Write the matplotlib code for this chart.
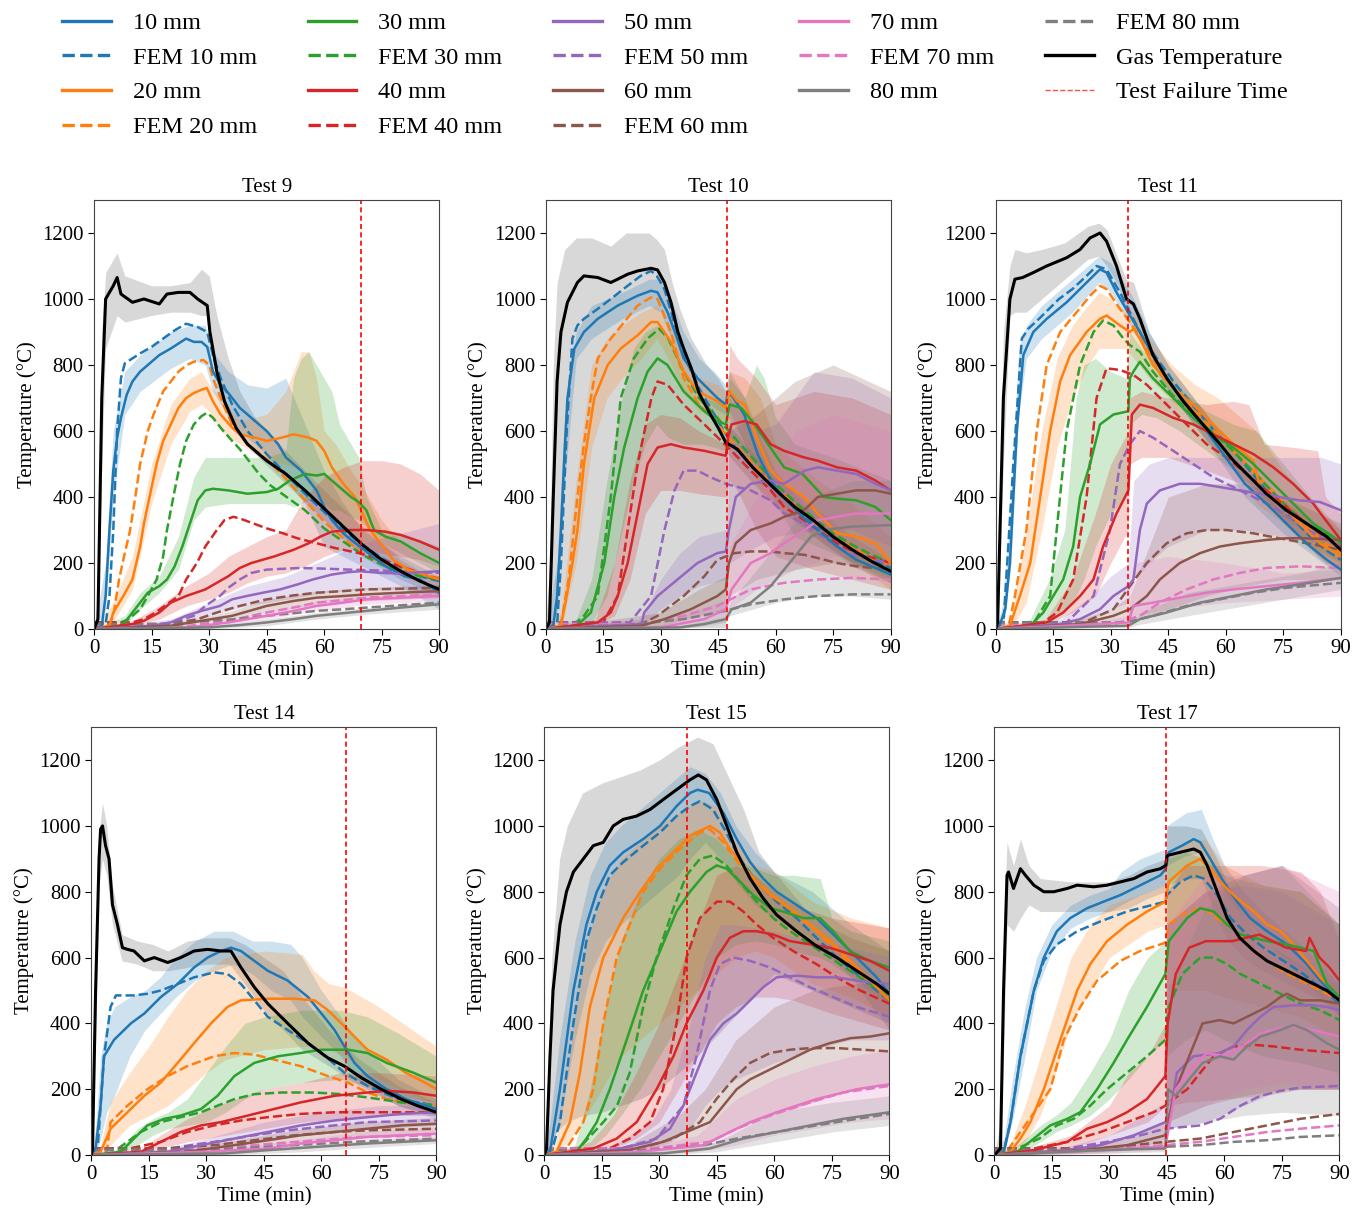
import matplotlib.pyplot as plt
from matplotlib.lines import Line2D
import numpy as np

plt.rcParams['font.family'] = ['Liberation Serif', 'DejaVu Serif']
plt.rcParams['font.size'] = 15

# colours of the thermocouple depths
COLORS = {10: '#1f77b4', 20: '#ff7f0e', 30: '#2ca02c', 40: '#d62728',
          50: '#9467bd', 60: '#8c564b', 70: '#e377c2', 80: '#7f7f7f'}
DEPTHS = [10, 20, 30, 40, 50, 60, 70, 80]
TESTS = [9, 10, 11, 14, 15, 17]
FAIL = {9: 69.6, 10: 47.2, 11: 34.6, 14: 66.4, 15: 37.3, 17: 44.8}

# data: (time, temp) for lines, (time, low, high) for bands
# ---------------- Test 9 ----------------
t9_gas = [(0,0),(1,30),(2,700),(3,1000),(5,1040),(6,1065),(7,1015),(10,990),(13,1000),(17,985),(19,1015),(22,1020),(25,1020),(27,1000),(29.5,980),(30.2,900),(32,780),(34,690),(37,610),(40,560),(45,510),(50,470),(55,420),(60,365),(65,310),(70,255),(75,210),(80,175),(85,145),(90,120)]
t9_gas_b = [(0,0,0),(1,0,100),(2,500,900),(3,850,1080),(6,950,1140),(8,930,1070),(15,950,1040),(20,960,1040),(25,960,1050),(28,950,1090),(30,950,1070),(32,740,950),(35,640,820),(38,580,720),(42,530,640),(50,440,540),(60,330,420),(70,220,310),(80,150,210),(90,100,140)]
t9_m10 = [(0,0),(2,10),(3,100),(4,300),(5,480),(6,580),(7,640),(8.5,710),(10,750),(12,780),(15,810),(17,830),(20,850),(22,865),(24,880),(26,870),(28,870),(29.5,855),(31,780),(33,740),(35,715),(38,670),(40,650),(45,600),(48,560),(50,520),(54,480),(56,450),(58,420),(60,370),(62,330),(65,290),(67,270),(71,235),(76,190),(81,160),(85,150),(90,110)]
t9_m10_b = [(0,0,0),(3,60,200),(5,400,600),(8,650,780),(12,720,830),(20,790,900),(25,820,920),(29,800,920),(31,720,840),(35,640,780),(40,580,740),(45,530,730),(50,450,760),(55,380,620),(60,250,480),(65,220,380),(70,190,300),(80,130,220),(90,60,160)]
t9_f10 = [(0,15),(3,15),(4,100),(5,300),(6,600),(7,760),(8,805),(10,820),(12,835),(15,855),(18,880),(21,905),(24,925),(27,915),(29.5,900),(31,830),(33,760),(36,680),(40,600),(45,530),(50,470),(55,410),(60,355),(65,300),(70,255),(75,215),(80,185),(85,160),(90,145)]
t9_m20 = [(0,0),(4,10),(5,50),(7.6,100),(10,150),(12,250),(13,320),(15,430),(16.3,500),(18,570),(20,620),(22,670),(24,700),(26,715),(28,725),(29.4,730),(31,690),(33,650),(36,610),(38,590),(42,580),(45,570),(49,580),(52,590),(56,580),(58,570),(60,540),(62,490),(65,440),(68,400),(70,350),(72,300),(74,270),(78,210),(82,180),(86,165),(90,150)]
t9_m20_b = [(0,0,0),(5,20,80),(10,120,220),(15,380,500),(20,560,680),(25,660,760),(28,680,780),(30,660,740),(33,600,700),(38,560,630),(45,510,650),(50,500,720),(54,480,840),(56,440,840),(58,420,760),(60,380,600),(63,330,560),(67,280,480),(70,250,430),(75,200,330),(80,160,260),(90,120,190)]
t9_f20 = [(0,15),(4,15),(5,40),(6.5,150),(8,230),(9.4,300),(11,420),(12,500),(14,600),(15.5,650),(18,720),(20,750),(22,780),(24.2,800),(26,810),(28.5,815),(30,800),(31,760),(33,700),(36,620),(40,560),(45,515),(50,455),(55,390),(60,325),(65,275),(70,230),(75,200),(80,180),(85,165),(90,155)]
t9_m30 = [(0,0),(7,10),(8,20),(10,50),(12,80),(14,110),(17,130),(19,150),(21,190),(23,250),(25,320),(27,390),(29,420),(31,425),(35,420),(40,410),(45,415),(48,425),(51,450),(55,470),(58,465),(60,470),(62,450),(64,430),(67,400),(69,385),(71,360),(73,300),(76,280),(80,265),(85,230),(90,200)]
t9_m30_b = [(0,0,0),(8,10,40),(12,60,110),(17,110,160),(22,180,280),(26,330,460),(29,370,520),(35,380,520),(45,380,520),(50,380,540),(52,370,760),(54,380,820),(56,390,840),(58,380,800),(60,380,760),(62,360,720),(64,360,620),(67,340,560),(69,330,520),(71,310,400),(75,260,300),(80,230,290),(90,170,250)]
t9_f30 = [(0,20),(7,20),(9,30),(12,60),(14,100),(16.3,150),(18,220),(19,300),(21,420),(22.4,500),(24,570),(26,620),(28,645),(29.4,655),(31,640),(33,610),(36,570),(38,545),(40,515),(43,470),(46,435),(49,410),(52,385),(55,360),(60,305),(65,265),(70,225),(75,195),(80,175),(85,160),(90,150)]
t9_m40 = [(0,0),(10,15),(13,25),(17,50),(20,80),(24,100),(29,120),(32,140),(35,160),(38,185),(41,200),(47,220),(52,240),(56,260),(59,280),(62,295),(66,300),(71,300),(76,295),(80,285),(85,265),(90,240)]
t9_m40_b = [(0,0,0),(10,10,25),(17,30,70),(24,70,130),(30,90,170),(35,110,220),(40,140,250),(45,160,280),(50,170,300),(55,190,400),(60,220,460),(65,240,490),(70,240,510),(75,230,510),(80,220,500),(85,210,470),(90,190,420)]
t9_f40 = [(0,20),(10,20),(13,30),(16,50),(19,75),(22,100),(24,150),(26.8,200),(29,250),(32,300),(34,330),(36.3,340),(38,335),(41.5,320),(45,305),(49.3,290),(53,275),(58,260),(63,245),(69,230),(75,210),(80,190),(85,170),(90,150)]
t9_m50 = [(0,0),(15,10),(20,20),(24,40),(28,55),(32.8,70),(36,90),(39.8,100),(44,110),(48.5,120),(53,135),(57,150),(62,165),(66,172),(69.3,175),(75,170),(80,168),(85,172),(90,175)]
t9_m50_b = [(0,0,0),(20,10,30),(30,40,80),(40,70,130),(50,90,160),(60,110,210),(70,120,260),(80,120,290),(90,110,320)]
t9_f50 = [(0,15),(18,15),(22,25),(26,40),(29,70),(32.8,100),(35,125),(38,150),(41,170),(45,180),(53.7,185),(60,183),(66.7,180),(75,177),(80,175),(85,172),(90,170)]
t9_m60 = [(0,0),(20,10),(28,25),(36,40),(45,70),(52,85),(58,95),(65,100),(71,105),(80,110),(90,115)]
t9_m60_b = [(0,0,0),(20,5,15),(36,30,55),(45,50,90),(58,75,115),(70,85,125),(90,95,135)]
t9_f60 = [(0,15),(20,15),(27,30),(32,50),(38,70),(45,90),(52,102),(58,110),(65,115),(71,120),(80,122),(90,125)]
t9_m70 = [(0,0),(25,5),(35,20),(45,40),(52,55),(58,70),(65,80),(71,90),(80,95),(90,100)]
t9_m70_b = [(0,0,0),(25,0,10),(45,30,50),(58,55,85),(71,75,100),(90,85,115)]
t9_f70 = [(0,10),(25,10),(35,25),(45,50),(52,65),(58,80),(65,88),(71,95),(80,100),(90,105)]
t9_m80 = [(0,0),(30,5),(38,12),(45,20),(52,30),(58,40),(65,48),(71,55),(80,65),(90,75)]
t9_m80_b = [(0,0,0),(30,0,10),(45,10,30),(58,30,50),(71,45,65),(90,60,85)]
t9_f80 = [(0,15),(20,15),(30,25),(37,30),(45,40),(52,48),(58,55),(65,60),(71,65),(80,72),(90,80)]

# ---------------- Test 10 ----------------
t10_gas = [(0,0),(1,20),(2,400),(3,750),(4,900),(5.7,990),(8.3,1050),(10,1070),(13.6,1065),(17,1050),(18.8,1060),(21.4,1075),(24,1085),(27.5,1093),(29.2,1088),(31,1050),(32.7,990),(34.5,900),(36,850),(38,790),(40,715),(43,650),(45,610),(47,565),(48.5,555),(50,545),(54,490),(58,445),(61,411),(65,370),(70,328),(75,280),(80,240),(85,205),(90,175)]
t10_gas_b = [(0,0,0),(1,0,200),(2,5,800),(3,5,1050),(5,5,1150),(8,5,1185),(12,5,1185),(17,5,1160),(21,5,1200),(27,5,1200),(29,5,1180),(31,5,1150),(33,5,1050),(35,5,970),(38,5,880),(42,5,800),(45,5,760),(47,5,720),(47.5,530,620),(50,495,590),(55,430,520),(60,370,460),(70,280,370),(80,200,280),(90,140,210)]
t10_m10 = [(0,0),(2,10),(3,100),(4,300),(5,550),(5.7,700),(7.5,850),(10,900),(13.6,940),(18.8,980),(24,1010),(27.5,1025),(29.2,1020),(31.8,960),(34,890),(36,820),(39.6,760),(44.8,700),(47,680),(47.6,720),(49,700),(51.8,650),(55.3,530),(58.7,450),(62,400),(67,340),(71,300),(76,250),(81,210),(85,190),(90,165)]
t10_m10_b = [(0,0,0),(3,50,200),(5,450,650),(8,820,900),(12,880,980),(20,940,1020),(27,980,1060),(30,960,1060),(33,870,990),(36,780,900),(40,720,820),(44,670,780),(47,650,740),(48,660,780),(52,560,700),(56,460,580),(60,400,480),(70,280,340),(80,190,240),(90,140,190)]
t10_f10 = [(0,15),(3,15),(4,200),(5.5,600),(7,880),(8.3,920),(10,940),(13.6,970),(17,1000),(21.4,1040),(24.8,1070),(27.5,1085),(29,1070),(31,1030),(33,950),(36,830),(40,730),(44,650),(47,590),(50,540),(55,480),(60,420),(65,370),(70,320),(75,275),(80,240),(85,210),(90,185)]
t10_m20 = [(0,0),(4,10),(5.5,100),(7,200),(8.3,300),(10,500),(12.7,700),(16.2,800),(19.6,850),(24,890),(27.5,930),(29.2,930),(32.7,870),(36,780),(39.6,720),(44.8,690),(47,670),(48,720),(50,690),(52,680),(55,580),(58.7,480),(62.2,440),(67.4,400),(71,350),(76,290),(81,280),(86,260),(88,230),(90,200)]
t10_m20_b = [(0,0,0),(4,0,50),(8,200,450),(12,550,800),(16,700,880),(20,760,920),(25,820,960),(29,880,980),(32,820,920),(36,720,820),(40,660,760),(45,640,740),(47,620,720),(48,640,780),(52,560,760),(56,420,700),(60,380,560),(70,280,460),(80,200,380),(90,120,280)]
t10_f20 = [(0,15),(4,15),(6,150),(8.3,400),(10,560),(11.8,700),(13.6,820),(17,880),(20.5,930),(24,980),(27.5,1005),(29.2,1000),(32.7,900),(36,760),(40,680),(45,620),(47,590),(50,550),(55,490),(60,430),(65,375),(70,325),(75,280),(80,245),(85,215),(90,195)]
t10_m30 = [(0,0),(8,10),(10,30),(11.8,50),(15.3,200),(17.9,400),(20.5,550),(24,700),(26.6,780),(29.2,820),(31.8,800),(36,720),(41.4,660),(44.8,630),(47,620),(48,680),(51,670),(54.5,620),(58,560),(62.2,490),(67,470),(72.6,400),(76,395),(81,390),(86,370),(90,330)]
t10_m30_b = [(0,0,0),(8,0,30),(12,20,150),(16,100,450),(20,300,700),(23,450,850),(26,560,900),(29,620,920),(32,580,880),(36,560,780),(41,560,700),(47,540,680),(48,560,760),(52,520,700),(55,500,800),(57,460,760),(60,380,640),(65,280,560),(75,230,520),(90,150,450)]
t10_f30 = [(0,20),(8,20),(10,40),(13.6,100),(17,400),(19.6,700),(23,820),(26.6,880),(29.6,910),(32,880),(36,780),(40,700),(44.8,640),(47,610),(50,570),(55,505),(60,440),(65,385),(70,335),(75,290),(80,255),(85,225),(90,200)]
t10_m40 = [(0,0),(13.6,20),(17,50),(18.8,100),(21.4,200),(24,350),(26.6,500),(29.2,550),(32.7,560),(36,550),(41.4,540),(47,525),(47.6,580),(48.5,620),(51.8,630),(55,620),(58.7,560),(62.2,540),(67.4,520),(71,510),(76,490),(81,480),(86,450),(90,420)]
t10_m40_b = [(0,0,0),(13,10,30),(18,40,200),(22,150,450),(26,350,620),(30,420,650),(35,420,640),(40,410,600),(47,400,560),(48,450,860),(50,420,820),(55,300,760),(60,220,680),(70,180,720),(80,150,700),(90,120,650)]
t10_f40 = [(0,20),(15,20),(18.8,100),(21.4,300),(24,500),(27.6,700),(29.2,750),(31.8,740),(36,680),(41.4,620),(46.7,560),(49.3,530),(53.5,480),(58.7,420),(62.2,370),(67.4,330),(71,300),(76,260),(81,230),(90,200)]
t10_m50 = [(0,0),(25,15),(25.7,50),(29.2,100),(34.4,150),(39.6,200),(44.8,230),(47,235),(47.8,300),(49.6,400),(53.5,440),(58.7,450),(62.2,440),(67.6,480),(71,490),(76,480),(81,470),(86,440),(90,420)]
t10_m50_b = [(0,0,0),(25,5,30),(30,60,150),(35,100,230),(40,130,280),(47,150,300),(48,200,700),(55,250,600),(60,280,620),(70,300,780),(80,300,760),(90,250,700)]
t10_f50 = [(0,20),(22,20),(27.5,100),(31,300),(33.6,420),(36,480),(39.6,480),(43,460),(47,440),(53.5,420),(58.7,390),(62.2,350),(67.4,320),(71,290),(76,250),(81,220),(90,200)]
t10_m60 = [(0,0),(25,10),(31,30),(37.9,60),(44.8,100),(47,120),(47.8,200),(49.6,260),(53.5,300),(58.7,320),(62.2,340),(67.4,360),(71,400),(76,410),(81,420),(86,420),(90,410)]
t10_m60_b = [(0,0,0),(30,10,50),(40,40,120),(47,60,160),(48,100,600),(55,150,650),(65,180,750),(75,200,800),(90,180,720)]
t10_f60 = [(0,15),(25,15),(29.2,40),(36,100),(41.4,160),(44.8,210),(49.3,230),(53.5,235),(58.7,235),(62.2,230),(67.4,225),(71,215),(76,200),(81,190),(90,180)]
t10_m70 = [(0,0),(30,5),(41.4,30),(47,60),(48.5,120),(53.5,200),(58.7,230),(62.2,260),(67.6,300),(71,330),(76,340),(81,350),(90,350)]
t10_m70_b = [(0,0,0),(30,0,15),(47,40,90),(48,60,250),(55,120,400),(65,180,600),(75,220,650),(90,230,600)]
t10_f70 = [(0,15),(25,15),(36,40),(44.8,70),(50,100),(53.5,120),(62.2,140),(71,150),(80,155),(90,150)]
t10_m80 = [(0,0),(35,5),(41.4,15),(47,30),(48.5,60),(53.5,80),(58.7,130),(62.2,180),(65.7,230),(69.2,280),(72.6,300),(79.5,310),(90,315)]
t10_m80_b = [(0,0,0),(35,0,10),(47,20,40),(48,40,80),(60,80,250),(70,100,400),(80,100,450),(90,90,450)]
t10_f80 = [(0,10),(20,10),(36,30),(47,55),(53.5,75),(62.2,90),(71,100),(80,105),(90,105)]

# ---------------- Test 11 ----------------
t11_gas = [(0,0),(0.5,20),(2,700),(3.7,1000),(5,1060),(7,1065),(9.8,1080),(13.3,1100),(18.5,1125),(22,1150),(24.6,1185),(27.2,1200),(28.9,1175),(31.5,1100),(34.1,1000),(35.9,985),(37.6,940),(41,830),(44.6,760),(48.9,690),(53.3,630),(58.5,560),(62,510),(67.2,450),(70.6,410),(75.8,360),(81,320),(86.3,280),(90,240)]
t11_gas_b = [(0,0,0),(0.5,0,150),(2,500,900),(3.7,950,1100),(5,960,1150),(8,960,1140),(12,1000,1150),(18,1060,1170),(24,1120,1220),(27,1130,1230),(29,1100,1210),(32,1040,1120),(34,960,1060),(36,940,1050),(40,820,900),(45,720,800),(55,570,650),(65,450,510),(75,340,390),(90,220,260)]
t11_m10 = [(0,0),(1,10),(2.5,60),(3.7,200),(5.5,600),(7.2,830),(9.8,900),(13.3,940),(18.5,990),(23.7,1050),(27.2,1090),(28.9,1080),(31.5,1020),(35,950),(37.6,900),(41,830),(44.6,760),(49.8,680),(55,600),(60,520),(65,440),(70.6,380),(75.8,320),(81,260),(86.3,210),(90,180)]
t11_m10_b = [(0,0,0),(2,0,80),(4,200,400),(6,650,850),(8,820,920),(12,880,980),(20,960,1060),(27,1050,1130),(30,1020,1110),(33,960,1060),(36,900,1000),(40,820,900),(45,720,800),(55,570,650),(65,400,480),(75,290,350),(90,160,210)]
t11_f10 = [(0,15),(2,15),(3,200),(4.6,500),(6.8,880),(8.5,910),(11.3,940),(16.5,1000),(20,1030),(23.7,1070),(26.3,1100),(28.9,1090),(32.4,1020),(35,960),(38,890),(42,820),(47,740),(52,670),(57,600),(62,540),(67,470),(72,400),(77,340),(82,280),(86,240),(90,210)]
t11_m20 = [(0,0),(3.7,10),(6.3,100),(9,200),(11.6,400),(14.2,600),(16.8,750),(19.4,830),(23.7,900),(27.2,940),(28.9,950),(32.4,920),(35,900),(35.9,910),(37.6,880),(41,800),(46.3,730),(51.5,680),(56.7,620),(62,560),(67.2,510),(68.9,430),(74,380),(79.3,320),(84.5,260),(90,220)]
t11_m20_b = [(0,0,0),(4,0,30),(8,80,300),(12,300,600),(16,550,820),(20,700,920),(24,800,980),(27,850,1020),(30,850,1000),(34,850,960),(36,820,960),(40,760,880),(46,690,800),(52,640,740),(58,560,700),(62,500,660),(68,380,600),(75,320,480),(82,240,380),(90,180,300)]
t11_f20 = [(0,15),(3.5,15),(5,100),(8,300),(10.7,600),(13.3,800),(16.8,900),(21.1,960),(24.6,1010),(27.2,1040),(28.9,1030),(32.4,970),(35,930),(38,880),(42,800),(47,720),(52,660),(57,600),(62,540),(67,480),(72,420),(77,360),(82,300),(86,260),(90,230)]
t11_m30 = [(0,0),(9,10),(12.4,50),(15,100),(17.6,150),(20.2,250),(22,400),(24.6,500),(27.2,620),(30.7,650),(34.6,660),(35,760),(35.9,780),(37.6,810),(41,760),(46.3,700),(51.5,640),(56.7,590),(62,550),(67.2,500),(72.4,440),(77.6,380),(82.8,320),(88,280),(90,260)]
t11_m30_b = [(0,0,0),(9,0,30),(14,30,150),(18,60,300),(21,100,700),(23,150,800),(26,250,820),(30,350,780),(34,400,760),(35,620,900),(38,650,850),(42,640,800),(48,600,730),(55,540,660),(62,480,620),(68,420,600),(75,320,500),(82,250,400),(90,200,300)]
t11_f30 = [(0,20),(10,20),(14.2,100),(15.9,300),(18.5,600),(22,800),(25.5,900),(28,935),(30.7,920),(33.3,880),(35,860),(37.6,840),(41,780),(46,710),(51,650),(56,600),(61,550),(66,490),(71,430),(76,370),(81,320),(86,290),(90,265)]
t11_m40 = [(0,0),(13.3,20),(17.6,50),(22,100),(25.5,150),(28,250),(31.5,350),(34.6,420),(35.5,650),(37.6,680),(41,670),(46.3,640),(51.5,620),(56.7,590),(62,560),(67.2,530),(72.4,490),(77.6,440),(82.8,380),(88,300),(90,270)]
t11_m40_b = [(0,0,0),(13,10,30),(20,50,150),(26,100,350),(30,200,500),(34.6,300,600),(35,500,700),(38,520,720),(45,520,700),(55,480,680),(62,450,690),(66,430,680),(70,380,560),(78,300,550),(84,220,540),(86,200,400),(90,180,350)]
t11_f40 = [(0,20),(12.4,20),(16,50),(20.2,150),(23.7,400),(26.3,700),(28.9,790),(32.4,785),(35.9,770),(39.4,740),(44.6,680),(49.8,620),(55,560),(60.2,520),(65.4,470),(70.6,420),(75.8,370),(81,320),(86.3,275),(90,250)]
t11_m50 = [(0,0),(16.8,15),(22,30),(27.2,60),(30.7,100),(34.6,130),(35.9,150),(37.6,300),(39.4,380),(42.8,420),(48,440),(53.3,440),(58.5,430),(63.7,420),(69,410),(74,400),(79,390),(84.5,385),(90,360)]
t11_m50_b = [(0,0,0),(17,5,30),(25,30,100),(30,60,160),(34.6,80,200),(36,150,450),(40,200,500),(45,250,520),(55,300,520),(65,300,520),(75,280,520),(85,260,520),(90,250,500)]
t11_f50 = [(0,20),(18.5,20),(25.5,100),(29.8,300),(32.4,500),(35,560),(37.6,600),(41,580),(46.3,540),(51.5,500),(56.7,460),(62,430),(67.2,400),(72.4,370),(77.6,330),(82.8,290),(90,250)]
t11_m60 = [(0,0),(22,15),(30.7,40),(35,60),(39.4,100),(42.8,150),(48,200),(53.3,230),(58.5,250),(63.7,260),(70.6,270),(75.8,275),(81,275),(90,270)]
t11_m60_b = [(0,0,0),(22,5,30),(30,20,60),(35,30,100),(40,40,250),(45,60,400),(55,100,440),(65,130,440),(75,150,400),(90,150,320)]
t11_f60 = [(0,20),(23,20),(30.7,60),(35,130),(39.4,200),(44.6,260),(49.8,290),(55,300),(60.2,300),(67.2,290),(74,275),(81,260),(90,240)]
t11_m70 = [(0,0),(27,15),(34.6,20),(35.9,70),(41,80),(48,95),(55,110),(62,120),(70.6,130),(79.3,140),(90,155)]
t11_m70_b = [(0,0,0),(27,5,25),(34.6,10,40),(36,40,200),(45,60,220),(60,80,200),(75,90,170),(90,100,180)]
t11_f70 = [(0,15),(31,15),(37.6,40),(42.8,80),(49.8,120),(56.7,150),(63.7,170),(70.6,185),(79.3,190),(90,185)]
t11_m80 = [(0,0),(34.6,10),(37.6,30),(44.6,50),(53.3,80),(62,100),(70.6,120),(79.3,135),(90,155)]
t11_m80_b = [(0,0,0),(34.6,5,20),(38,15,50),(50,40,110),(65,70,140),(80,100,170),(90,120,200)]
t11_f80 = [(0,20),(34,20),(41,40),(49.8,70),(58.5,90),(67.2,110),(75.8,125),(90,140)]

# ---------------- Test 14 ----------------
t14_gas = [(0,0),(0.3,20),(1.1,500),(2,900),(2.4,990),(2.9,1000),(3.7,940),(4.6,900),(5.5,760),(6.8,700),(8.1,630),(9.4,625),(11.1,620),(13.8,590),(16.4,600),(19.9,585),(23.3,600),(26.8,620),(30.3,625),(33.8,620),(36.4,620),(39,570),(42.5,510),(46,460),(51.2,400),(56.5,340),(61.7,295),(66,270),(70.4,235),(75.6,200),(80.8,170),(85,150),(90,130)]
t14_gas_b = [(0,0,0),(0.3,0,100),(1.1,350,650),(2,820,980),(2.9,900,1070),(4,850,1000),(5.5,700,820),(8,590,670),(12,580,650),(16,560,640),(20,560,620),(25,570,650),(30,580,660),(36,580,660),(40,520,640),(45,440,600),(50,380,560),(55,320,480),(62,270,380),(70,210,290),(80,150,210),(90,120,160)]
t14_m10 = [(0,0),(1.1,20),(2.4,150),(3.3,300),(5.9,350),(10.3,400),(13.8,430),(18.1,480),(22.5,520),(26.8,570),(30.3,600),(33.8,620),(36.4,630),(39,620),(42.5,590),(46,560),(51.2,530),(56.5,480),(60,430),(63.4,380),(66,330),(68.6,280),(72,240),(77,200),(82,170),(90,140)]
t14_m10_b = [(0,0,0),(1.1,0,80),(2.4,50,300),(4,130,400),(6,180,450),(10,300,480),(14,380,500),(18,430,540),(22,480,600),(27,530,650),(32,560,680),(37,580,680),(42,550,650),(47,500,650),(52,470,640),(55,420,600),(60,360,500),(65,300,420),(70,220,340),(80,150,230),(90,110,170)]
t14_f10 = [(0,15),(1.6,15),(3.3,300),(5,450),(6.4,485),(11.1,485),(14.6,490),(18.1,500),(22.5,520),(26.8,540),(32,555),(35.5,550),(39,520),(42.5,470),(46,420),(51.2,380),(56.5,340),(62,290),(66,250),(72,210),(80,170),(90,150)]
t14_m20 = [(0,0),(2.4,10),(5,80),(9.4,130),(13.8,180),(18.1,220),(22.5,280),(26.8,340),(31.2,400),(35.5,450),(39,470),(46,475),(53,475),(58.2,470),(61.7,440),(65.2,400),(68.6,360),(72,320),(77,290),(82,250),(87,220),(90,200)]
t14_m20_b = [(0,0,0),(2.4,0,30),(5,30,160),(10,90,250),(15,120,330),(20,150,420),(25,200,500),(30,250,560),(35,290,600),(45,320,620),(55,330,610),(58,330,560),(62,320,520),(66,300,510),(75,230,450),(90,150,330)]
t14_f20 = [(0,10),(4,10),(5,100),(9.4,150),(14.6,200),(19.9,240),(25,270),(32,300),(37.3,310),(42.5,305),(47.7,290),(54.6,270),(61.7,240),(66.9,220),(72,190),(77,170),(84,155),(90,150)]
t14_m30 = [(0,0),(7.7,10),(11.1,50),(14.6,90),(19,110),(23.3,120),(28.6,140),(32.9,180),(37.3,240),(42.5,280),(48.6,300),(54.6,310),(59.9,320),(66.9,320),(72,310),(77,280),(84,250),(90,220)]
t14_m30_b = [(0,0,0),(7.7,0,20),(12,30,80),(16,60,110),(20,80,130),(25,90,170),(30,100,250),(35,130,330),(40,170,400),(45,200,420),(55,220,440),(65,230,440),(72,210,420),(80,180,370),(90,160,300)]
t14_f30 = [(0,20),(7,20),(12.9,70),(18.1,100),(23.3,115),(28.6,130),(32.9,150),(37.3,170),(42.5,185),(49.5,190),(58.2,190),(65.2,185),(72,175),(80.8,160),(90,150)]
t14_m40 = [(0,0),(13,10),(18.1,40),(23.3,70),(28.6,90),(33.8,100),(40.8,120),(47.7,140),(54.6,160),(63.4,180),(72,190),(77,195),(84,190),(90,180)]
t14_m40_b = [(0,0,0),(13,0,20),(18,20,60),(25,40,110),(35,60,160),(45,80,200),(55,100,220),(65,110,250),(75,120,250),(90,120,240)]
t14_f40 = [(0,20),(10,20),(18.1,40),(25,70),(32,90),(39,105),(46,115),(54.6,125),(63.4,130),(72,130),(90,130)]
t14_m50 = [(0,0),(20,10),(28.6,30),(37.3,50),(46,70),(54.6,90),(63.4,105),(72,115),(80.8,125),(90,130)]
t14_m50_b = [(0,0,0),(20,0,20),(30,20,50),(45,40,100),(60,70,130),(75,80,150),(90,90,150)]
t14_f50 = [(0,20),(20,20),(32,40),(42.5,60),(51.2,75),(63.4,90),(72,100),(90,105)]
t14_m60 = [(0,0),(25,10),(37.3,30),(46,45),(54.6,60),(63.4,70),(72,80),(80.8,90),(90,95)]
t14_m60_b = [(0,0,0),(25,0,20),(40,20,50),(55,40,80),(70,55,100),(90,70,115)]
t14_f60 = [(0,20),(20,20),(32,30),(42.5,45),(53,60),(63.4,70),(72,75),(90,80)]
t14_m70 = [(0,0),(30,10),(46,20),(54.6,35),(63.4,45),(72,55),(90,65)]
t14_m70_b = [(0,0,0),(30,0,15),(50,15,40),(70,35,70),(90,45,85)]
t14_f70 = [(0,15),(25,15),(37.3,25),(47.7,35),(59,45),(70.4,55),(90,60)]
t14_m80 = [(0,0),(35,5),(46,15),(59,25),(72,35),(90,45)]
t14_m80_b = [(0,0,0),(35,0,10),(55,10,30),(75,25,45),(90,35,55)]
t14_f80 = [(0,15),(25,15),(37.3,20),(53,30),(67.8,40),(90,50)]

# ---------------- Test 15 ----------------
t15_gas = [(0,0),(0.6,20),(1.5,300),(2.3,500),(4.1,700),(5.8,800),(7.6,860),(10.2,900),(12.8,940),(15.4,950),(18,1000),(20.6,1020),(24.1,1030),(27.6,1050),(31,1080),(34.5,1110),(38,1140),(40.2,1155),(42.3,1140),(45,1080),(47.6,1000),(50.2,920),(53.7,840),(57.1,780),(60.6,730),(65.8,680),(71,635),(76.3,600),(81.5,560),(86.7,520),(90,490)]
t15_gas_b = [(0,0,0),(0.6,0,150),(2,50,600),(4,80,900),(6,100,1000),(10,120,1100),(15,130,1130),(20,150,1150),(25,170,1170),(30,200,1200),(35,250,1240),(40,300,1270),(44,350,1250),(48,400,1150),(52,450,1050),(56,500,920),(60,550,860),(70,500,720),(80,450,660),(90,400,620)]
t15_m10 = [(0,0),(1.5,10),(4.1,200),(7.6,500),(11,700),(13.7,800),(17.1,880),(20.6,920),(25.8,960),(30.2,1000),(34.5,1060),(38,1100),(40,1110),(43,1100),(46.7,1040),(50.2,960),(53.7,890),(57.1,840),(60.6,800),(65.8,760),(71,720),(76.3,660),(81.5,600),(86.7,540),(90,490)]
t15_m10_b = [(0,0,0),(1.5,0,100),(4,100,350),(8,350,650),(12,550,850),(16,650,950),(20,700,1000),(25,750,1050),(30,800,1100),(35,850,1150),(38,900,1180),(42,950,1160),(46,900,1100),(50,830,1000),(55,760,920),(60,720,860),(70,650,800),(80,540,700),(90,380,620)]
t15_f10 = [(0,15),(2,15),(4.1,100),(7.6,400),(11,650),(13.7,750),(17.1,850),(20.6,890),(25.8,940),(30.2,980),(34.5,1030),(38,1060),(40.6,1075),(44,1050),(47.5,980),(51,900),(55.4,830),(60.6,770),(65.8,720),(71,660),(76.3,600),(81.5,550),(86.7,500),(90,470)]
t15_m20 = [(0,0),(3.2,10),(6.7,100),(9.3,250),(11.9,450),(15.4,600),(20.6,720),(25,800),(29.3,870),(34.5,930),(38,970),(41.5,990),(43.2,1000),(45.8,980),(48.4,930),(51.9,880),(55.4,830),(58.9,790),(64.1,750),(69.3,700),(74.5,650),(79.8,590),(85,530),(90,470)]
t15_m20_b = [(0,0,0),(3,0,50),(6,40,250),(10,100,600),(15,200,800),(20,300,900),(25,350,950),(30,400,1000),(35,450,1040),(40,500,1080),(45,550,1060),(50,600,950),(55,620,880),(60,600,860),(70,520,770),(80,480,720),(90,420,690)]
t15_f20 = [(0,15),(5.5,15),(10.2,100),(12.8,200),(15.4,400),(18.9,600),(22.3,700),(25.8,800),(30.2,870),(35.4,930),(40.6,980),(43.2,990),(46.7,950),(51.1,880),(55.4,830),(60.6,780),(65.8,730),(71,680),(76.3,620),(81.5,560),(86.7,510),(90,470)]
t15_m30 = [(0,0),(8.4,10),(11,50),(13.7,100),(17.1,200),(21.5,350),(25.8,500),(30.2,620),(34.5,740),(38,800),(42.3,860),(45,880),(47.6,870),(51.1,830),(54.5,790),(58.9,750),(62.3,740),(67.5,720),(71.9,720),(75.4,680),(79.7,620),(84.9,590),(90,570)]
t15_m30_b = [(0,0,0),(8,0,30),(12,20,200),(16,60,450),(20,120,650),(25,200,800),(30,300,900),(35,400,960),(40,500,990),(45,600,960),(50,640,900),(55,650,870),(60,640,850),(65,620,850),(72,600,840),(75,580,720),(80,540,680),(90,460,650)]
t15_f30 = [(0,20),(9,20),(15.4,100),(19,150),(22.3,250),(25.8,450),(29.3,600),(33.7,750),(37.1,850),(40.6,900),(44,910),(47.5,880),(51,830),(55.4,770),(59.7,720),(64.1,680),(69.3,640),(74.5,600),(79.7,560),(84.9,520),(90,480)]
t15_m40 = [(0,0),(12.8,20),(18.9,50),(24.1,100),(29.3,200),(33.7,300),(37.1,400),(41.5,500),(45,600),(48.4,660),(51.9,680),(55.4,680),(59.7,670),(64.1,650),(69.3,640),(74.5,630),(79.8,610),(85,590),(90,560)]
t15_m40_b = [(0,0,0),(12,5,40),(18,20,120),(24,50,250),(30,100,400),(35,200,550),(40,300,700),(45,400,850),(50,450,880),(55,480,850),(60,480,800),(65,470,760),(75,430,720),(90,380,690)]
t15_f40 = [(0,20),(17,20),(22.3,50),(27.6,100),(31,200),(34.5,400),(37.1,600),(40.6,720),(45,770),(48.4,770),(51.9,740),(55.4,700),(59.7,660),(64.9,620),(71,580),(76.3,540),(82.4,500),(90,460)]
t15_m50 = [(0,0),(18,15),(27.6,40),(32.8,80),(36.3,150),(39.7,250),(43.2,350),(46.7,400),(50.2,430),(53.7,470),(57.1,510),(60.6,540),(65.8,545),(71,540),(76.3,540),(81.5,530),(90,520)]
t15_m50_b = [(0,0,0),(18,5,30),(28,20,100),(33,40,200),(38,80,400),(42,150,600),(46,200,700),(50,230,700),(60,280,680),(70,320,650),(80,350,630),(90,350,600)]
t15_f50 = [(0,20),(20,20),(29.3,50),(36.3,150),(39.7,300),(43.2,500),(45.8,580),(49.3,600),(53.7,590),(58.9,570),(64.1,540),(69.3,510),(75.4,480),(81.5,450),(90,420)]
t15_m60 = [(0,0),(22,15),(31,40),(37.1,70),(43.2,100),(46.7,150),(50.2,200),(53.7,230),(58.9,260),(64.1,290),(69.3,320),(74.5,340),(79.8,355),(85,360),(90,370)]
t15_m60_b = [(0,0,0),(22,5,30),(35,20,120),(42,40,200),(50,80,350),(60,120,450),(70,160,500),(80,200,520),(90,220,520)]
t15_f60 = [(0,20),(25,20),(33.7,50),(40.6,100),(44.9,170),(49.3,230),(53.7,280),(58.9,310),(64.1,320),(69.3,325),(76.3,325),(83.2,320),(90,315)]
t15_m70 = [(0,0),(25,10),(41.5,30),(46.7,60),(53.7,100),(60.6,130),(71,170),(81.5,200),(90,215)]
t15_m70_b = [(0,0,0),(25,0,20),(40,10,60),(50,30,170),(60,60,230),(70,80,270),(80,100,300),(90,110,320)]
t15_f70 = [(0,20),(28,20),(43.2,40),(50.2,80),(58.9,120),(69.3,160),(78,190),(90,210)]
t15_m80 = [(0,0),(31,5),(43.2,20),(51.9,50),(60.6,70),(69.3,90),(78,110),(90,130)]
t15_m80_b = [(0,0,0),(31,0,15),(45,10,40),(55,30,100),(65,50,140),(75,70,160),(90,90,180)]
t15_f80 = [(0,15),(27.6,15),(41.5,30),(50.2,50),(60.6,70),(71,90),(81.5,110),(90,125)]

# ---------------- Test 17 ----------------
t17_gas = [(0,0),(1.6,20),(2.4,500),(3.3,850),(3.7,860),(5,810),(6.8,870),(8.1,850),(10.3,820),(12.9,800),(15.5,800),(19,810),(21.6,820),(25.9,815),(29.4,820),(32.9,830),(36.4,840),(39.8,860),(43.3,870),(44.7,880),(45,910),(48.5,920),(52,930),(53.7,920),(55.5,880),(58.1,800),(60.7,720),(64,660),(67.7,620),(71.1,590),(76.3,560),(81.5,530),(86.7,500),(90,470)]
t17_gas_b = [(0,0,0),(1.6,0,100),(2.4,300,700),(3.3,700,950),(5,680,880),(6.8,720,960),(9,760,880),(12,740,840),(20,740,830),(30,740,830),(35,750,850),(40,780,880),(44.7,800,900),(45,820,1000),(50,840,1000),(54,840,990),(58,720,900),(61,650,820),(65,600,720),(70,560,650),(80,500,580),(90,440,520)]
t17_m10 = [(0,0),(2.5,10),(4.2,100),(6.8,300),(10.3,500),(12.9,600),(16.3,680),(19.8,720),(24.2,750),(28.5,770),(32.9,790),(38.1,820),(43.3,850),(44.7,870),(45.5,920),(48.9,940),(52,960),(53.7,950),(56.3,900),(59.8,830),(63.3,770),(66.7,720),(71.1,680),(76.3,640),(81.5,580),(85,530),(90,470)]
t17_m10_b = [(0,0,0),(2.5,0,50),(5,120,250),(8,300,450),(11,500,600),(15,620,700),(20,690,760),(25,720,790),(30,740,810),(33,760,860),(38,790,900),(44.7,820,930),(45,880,1000),(50,910,1040),(54,920,1050),(57,860,960),(60,800,880),(65,720,800),(70,660,740),(80,540,640),(90,420,520)]
t17_f10 = [(0,15),(2.5,15),(4.2,100),(6.8,300),(10.3,500),(12.9,590),(16.3,640),(21.6,680),(27.7,710),(34.6,740),(44.6,770),(45,790),(48.5,830),(52,850),(54.6,840),(58.1,790),(61.6,720),(65.9,670),(70.2,630),(75.4,590),(80.6,550),(85,510),(90,460)]
t17_m20 = [(0,0),(4.2,10),(6.8,50),(9.4,100),(12.9,200),(17.2,350),(21.6,500),(25,580),(29.4,650),(34.6,700),(39.8,740),(44.6,770),(45.5,830),(50.3,880),(53.7,900),(56.3,870),(59.8,820),(63.3,780),(67.7,740),(71.1,700),(74.6,680),(78,640),(81.5,590),(85,540),(90,480)]
t17_m20_b = [(0,0,0),(4,0,30),(8,40,150),(12,120,300),(16,250,450),(20,400,600),(25,500,700),(30,600,760),(35,640,780),(40,680,800),(44.7,700,820),(45,500,900),(50,500,950),(55,500,960),(60,480,880),(70,450,820),(80,420,800),(90,350,700)]
t17_f20 = [(0,15),(3.5,15),(8.6,100),(14.6,200),(18.1,350),(22.4,450),(26.8,530),(32.9,590),(38,620),(44.6,645),(45.5,700),(50.3,740),(54.6,750),(58,720),(62,690),(66,640),(70,600),(75,560),(80,530),(85,500),(90,470)]
t17_m30 = [(0,0),(6,10),(10.3,50),(14.6,90),(19,110),(22.4,130),(26.8,200),(31.1,280),(34.6,350),(39.8,450),(44.6,550),(45.5,650),(50.3,720),(53.7,750),(57.2,740),(60.7,700),(64.2,670),(67.7,660),(71.1,650),(76.3,640),(79.8,630),(83.3,620),(86.7,520),(90,480)]
t17_m30_b = [(0,0,0),(6,0,30),(12,40,90),(16,70,120),(20,90,160),(25,120,250),(30,170,350),(35,230,500),(40,300,600),(44.7,350,650),(45,300,900),(50,350,920),(55,380,900),(60,350,850),(70,300,820),(80,280,800),(90,250,700)]
t17_f30 = [(0,20),(6,20),(11.7,50),(16.3,90),(20.7,110),(25,150),(29.4,200),(34.6,250),(39.8,300),(44.6,350),(45.5,450),(49,550),(53.7,600),(57.2,600),(60.7,580),(64.2,550),(69.4,520),(74.6,490),(79.8,460),(85,440),(90,410)]
t17_m40 = [(0,0),(10.3,15),(19,40),(24.2,80),(29.4,100),(34.6,130),(39.8,170),(44.6,240),(45.2,400),(47.3,550),(50.8,630),(55.2,650),(58.6,650),(62.1,650),(65.6,660),(69.1,670),(72.6,650),(76.1,630),(81.3,620),(82.2,660),(84.8,600),(87.4,570),(90,530)]
t17_m40_b = [(0,0,0),(10,5,25),(20,20,60),(30,60,150),(35,80,250),(40,100,300),(44.7,150,400),(45,150,800),(50,160,880),(60,170,880),(70,180,880),(80,200,860),(85,200,800),(90,200,650)]
t17_f40 = [(0,20),(10.3,20),(19,40),(27.7,70),(34.6,100),(41.5,130),(44.6,150),(46.7,170),(50.3,200),(53.7,250),(57.2,300),(62.4,330),(67.6,335),(72.8,330),(79.8,320),(90,310)]
t17_m50 = [(0,0),(19,15),(27.7,30),(36.4,60),(44.6,100),(45.9,130),(47.6,250),(51.9,300),(58.8,310),(62.4,330),(65.9,380),(69.4,420),(72.8,450),(78,455),(83.2,455),(86.7,450),(90,440)]
t17_m50_b = [(0,0,0),(19,5,25),(30,15,60),(40,30,130),(44.7,50,160),(45,80,700),(55,100,800),(65,150,820),(75,200,800),(90,200,700)]
t17_f50 = [(0,20),(19,20),(29.4,40),(38.1,60),(44.6,80),(53.7,90),(58.8,110),(64.2,150),(69.4,180),(74.6,195),(79.8,205),(90,210)]
t17_m60 = [(0,0),(23.3,15),(34.6,30),(44.6,60),(47.3,200),(50.8,300),(54.3,400),(58.8,410),(62.4,400),(65.9,420),(71.1,450),(74.6,480),(76.3,490),(79.8,470),(85,470),(90,460)]
t17_m60_b = [(0,0,0),(23,5,25),(35,15,50),(44.7,30,100),(45,100,700),(55,150,800),(65,180,850),(75,200,880),(90,200,750)]
t17_f60 = [(0,20),(27.7,20),(44.6,40),(53.7,50),(62.4,70),(71.1,90),(79.8,110),(90,125)]
t17_m70 = [(0,0),(27.7,15),(44.6,25),(47.3,200),(51.9,270),(55.4,310),(60.7,300),(65.9,340),(69.4,370),(74.6,385),(78,390),(83.2,380),(90,360)]
t17_m70_b = [(0,0,0),(28,5,25),(44.7,15,40),(45,100,700),(55,150,850),(65,200,850),(75,220,880),(90,200,800)]
t17_f70 = [(0,15),(27.7,15),(44.6,30),(53.7,40),(62.4,55),(71.1,70),(79.8,80),(90,90)]
t17_m80 = [(0,0),(27.7,15),(44.6,20),(45.3,200),(47.3,180),(50.8,230),(54.3,280),(58.8,300),(62.4,290),(65.9,330),(69.4,360),(74.6,380),(78,395),(81.5,380),(86.7,340),(90,320)]
t17_m80_b = [(0,0,0),(28,5,20),(44.7,10,30),(45,80,500),(55,100,750),(65,120,850),(75,130,880),(90,120,700)]
t17_f80 = [(0,15),(27.7,15),(44.6,25),(53.7,30),(62.4,40),(71.1,45),(79.8,55),(90,60)]

# axes positions [left, bottom, width, height] in figure fractions
POS = {9: [0.069, 0.481, 0.253, 0.354], 10: [0.400, 0.481, 0.253, 0.354],
       11: [0.730, 0.481, 0.253, 0.354], 14: [0.067, 0.047, 0.253, 0.353],
       15: [0.399, 0.047, 0.253, 0.353], 17: [0.729, 0.047, 0.253, 0.353]}

D = globals()


def line(ax, pts, **kw):
    a = np.array(pts, dtype=float)
    ax.plot(a[:, 0], a[:, 1], **kw)


def band(ax, rows, color, alpha):
    a = np.array(rows, dtype=float)
    ax.fill_between(a[:, 0], a[:, 1], a[:, 2], color=color, alpha=alpha, lw=0)


fig = plt.figure(figsize=(13.64, 12.12), dpi=100)

for n in TESTS:
    ax = fig.add_axes(POS[n])
    band(ax, D[f"t{n}_gas_b"], 'grey', 0.3)
    for d in DEPTHS:
        band(ax, D[f"t{n}_m{d}_b"], COLORS[d], 0.22)
    for d in DEPTHS:
        line(ax, D[f"t{n}_f{d}"], color=COLORS[d], lw=1.8, ls='--')
    for d in DEPTHS:
        line(ax, D[f"t{n}_m{d}"], color=COLORS[d], lw=1.8)
    line(ax, D[f"t{n}_gas"], color='black', lw=2.2)
    ax.axvline(FAIL[n], color='red', lw=1.2, ls=(0, (3, 2)))
    ax.set_xlim(0, 90)
    ax.set_ylim(0, 1300)
    ax.set_xticks(range(0, 91, 15))
    ax.set_yticks(range(0, 1201, 200))
    ax.tick_params(direction='out', length=4, width=0.8)
    for s in ax.spines.values():
        s.set_color('#444444')
    ax.set_title(f"Test {n}", fontsize=15, pad=6)
    ax.set_xlabel('Time (min)', fontsize=15, labelpad=2)
    ax.set_ylabel('Temperature (°C)', fontsize=15)

# legend, filled column by column in 5 columns
handles = []
for d in DEPTHS:
    handles.append(Line2D([], [], color=COLORS[d], lw=2.4, label=f"{d} mm"))
    if d < 80:
        handles.append(Line2D([], [], color=COLORS[d], lw=2.4, ls='--', label=f"FEM {d} mm"))
handles.append(Line2D([], [], color=COLORS[80], lw=2.4, ls='--', label='FEM 80 mm'))
handles.append(Line2D([], [], color='black', lw=2.4, label='Gas Temperature'))
handles.append(Line2D([], [], color='red', lw=1, ls='--', alpha=0.7, label='Test Failure Time'))
fig.legend(handles=handles, loc='upper left', ncol=5,
           bbox_to_anchor=(0.0455, 0.990), frameon=False, fontsize=17.5,
           handlelength=2.0, handletextpad=0.9, columnspacing=2.1,
           labelspacing=0.52, borderpad=0, borderaxespad=0)

fig.savefig('out.png', dpi=100)
